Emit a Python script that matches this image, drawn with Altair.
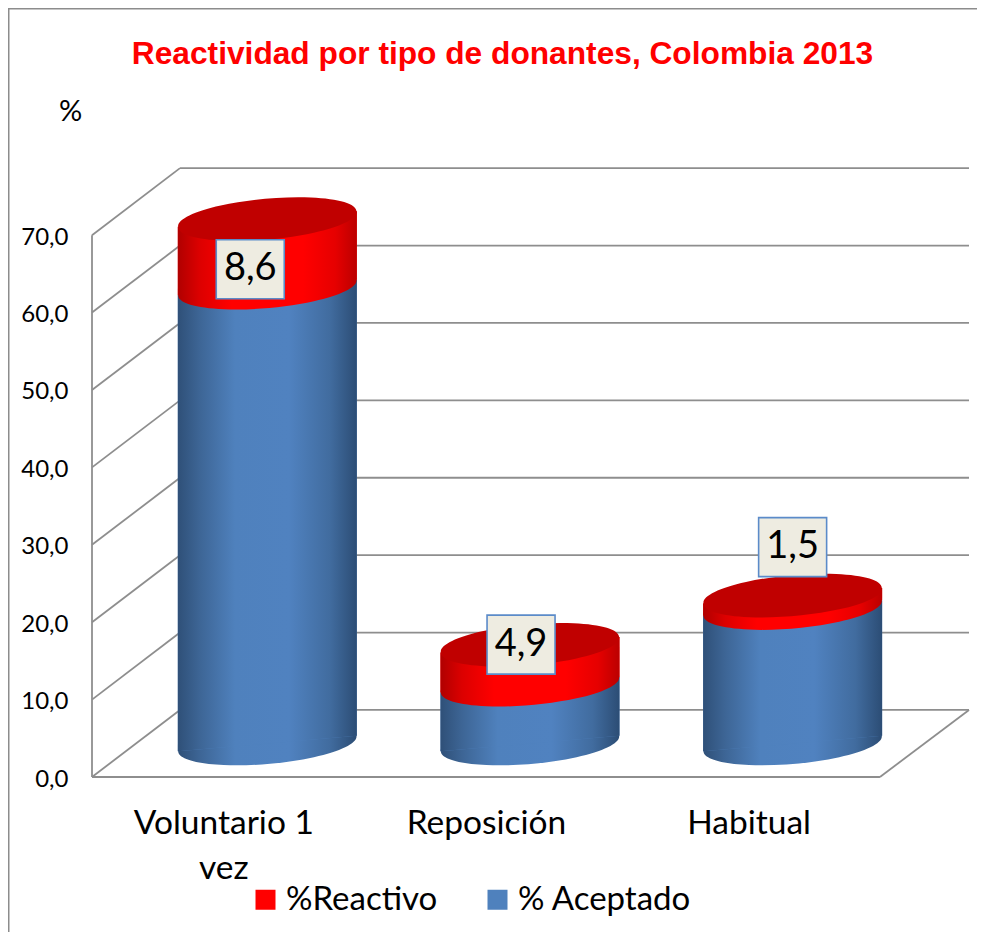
import json
import altair as alt
import pandas as pd

# --- values ---
categories = ["Voluntario 1", "Reposición", "Habitual"]
category_lines = [["Voluntario 1", "vez"], ["Reposición"], ["Habitual"]]
aceptado = [58.9, 7.6, 17.5]
reactivo = [8.85, 5.15, 1.6]
label_text = ["8,6", "4,9", "1,5"]
label_shift = [-0.065, -0.034, 0.0]
label_level = [65.6, 17.1, 29.7]
ticks = [0, 10, 20, 30, 40, 50, 60, 70]
series_names = ["%Reactivo", "% Aceptado"]
series_colors = ["#ff0000", "#4f81bd"]

# --- pseudo-3D frame, in axis units ---
DEPTH_X, DEPTH_Y = 0.335, 8.66
X_MAX, Y_MAX = 3.339, 78.68
HALF = 0.3407
TILT = 1.0
FONT = "Lato"
TITLE_FONT = "Liberation Sans"
GRID = "#8e8e8e"
ELLIPSE = "M-0.996 0.087 A1 0.224 -5 1 1 0.996 -0.087 A1 0.224 -5 1 1 -0.996 0.087 Z"
BOX = "M-1 -0.868 L1 -0.868 L1 0.868 L-1 0.868 Z"
ELLIPSE_SIZE = 32041
BOX_SIZE = 4624

x_scale = alt.Scale(domain=[0, X_MAX], nice=False, zero=False)
y_scale = alt.Scale(domain=[0, Y_MAX], nice=False, zero=False)

segments = []
for v in ticks:
    segments.append(dict(x=0, x2=DEPTH_X, y=v, y2=v + DEPTH_Y))
    segments.append(dict(x=DEPTH_X, x2=X_MAX, y=v + DEPTH_Y, y2=v + DEPTH_Y))
segments.append(dict(x=0, x2=0, y=0, y2=ticks[-1]))
segments.append(dict(x=0, x2=3, y=0, y2=0))
segments.append(dict(x=3, x2=X_MAX, y=0, y2=DEPTH_Y))
seg_df = pd.DataFrame(segments)

caps, bodies = [], []
for i, cat in enumerate(categories):
    cx = i + 0.5 + DEPTH_X / 2
    base = DEPTH_Y / 2
    mid = base + aceptado[i]
    top = mid + reactivo[i]
    caps.append(dict(cat=cat, cx=cx, base=base, mid=mid, top=top,
                     lx=cx + label_shift[i], ly=label_level[i], label=label_text[i]))
    for side in (-1, 1):
        px = cx + side * HALF
        t = side * TILT
        bodies.append(dict(cat=cat, series=series_names[1], px=px, lo=base + t, hi=mid + t))
        bodies.append(dict(cat=cat, series=series_names[0], px=px, lo=mid + t, hi=top + t))
cap_df = pd.DataFrame(caps)
body_df = pd.DataFrame(bodies)

X = lambda f: alt.X(f, type="quantitative", scale=x_scale, title=None)
Y = lambda f: alt.Y(f, type="quantitative", scale=y_scale, title="%")


def grad(stops):
    return alt.LinearGradient(
        gradient="linear", x1=0, x2=1, y1=0, y2=0,
        stops=[alt.GradientStop(offset=o, color=c) for o, c in stops],
    )


blue_grad = grad([(0, "#2f5078"), (0.12, "#3d6595"), (0.32, "#4f81bd"), (0.62, "#5082c0"),
                  (0.85, "#416c9f"), (1, "#2c4d75")])
red_grad = grad([(0, "#b00000"), (0.12, "#dc0000"), (0.3, "#ff0000"), (0.7, "#ff0000"),
                 (0.88, "#e60000"), (1, "#bb0000")])

labels_expr = "[" + ",".join(json.dumps(l, ensure_ascii=False) for l in category_lines) + "][floor(datum.value)]"

frame = alt.Chart(seg_df).mark_rule(color=GRID, strokeWidth=1.8).encode(
    x=alt.X("x:Q", scale=x_scale, axis=alt.Axis(
        values=[0.5, 1.5, 2.5], labelExpr=labels_expr, domain=False, ticks=False, grid=False, title=None,
        labelFont=FONT, labelFontSize=33.5, labelColor="#000000", labelPadding=30, labelLineHeight=45,
        labelLimit=500, labelOverlap=False, labelBound=False, labelFlush=False)),
    x2="x2:Q",
    y=alt.Y("y:Q", scale=y_scale, title="%", axis=alt.Axis(
        values=ticks, labelExpr="replace(format(datum.value,'.1f'),'.',',')", domain=False, ticks=False,
        grid=False, labelFont=FONT, labelFontSize=24, labelColor="#000000", labelPadding=24, labelOffset=2,
        labelOverlap=False, labelBound=False, labelFlush=False,
        titleAngle=0, titleX=-22, titleY=-48, titleFont=FONT, titleFontSize=29,
        titleFontWeight="normal", titleColor="#000000", titleAlign="center", titleBaseline="alphabetic")),
    y2="y2:Q",
)

border = alt.Chart(pd.DataFrame({"a": [0]}))
border_left = border.mark_rule(color="#8c8c8c", strokeWidth=1.5).encode(
    x=alt.value(-83.25), y=alt.value(-160), y2=alt.value(764))
border_top = border.mark_rule(color="#8c8c8c", strokeWidth=1.5).encode(
    y=alt.value(-159.25), x=alt.value(-84), x2=alt.value(885))


def ellipse(field, fill):
    return alt.Chart(cap_df).mark_point(
        shape=ELLIPSE, size=ELLIPSE_SIZE, filled=True, fill=fill, opacity=1
    ).encode(x=X("cx"), y=Y(field))


def body(series, fill):
    return alt.Chart(body_df[body_df.series == series]).mark_area(fill=fill).encode(
        x=X("px"), y=Y("lo"), y2="hi:Q", detail="cat:N")


flat = alt.Chart(body_df).mark_area().encode(
    x=X("px"), y=Y("lo"), y2="hi:Q", detail="cat:N",
    color=alt.Color("series:N", scale=alt.Scale(domain=series_names, range=series_colors), sort=None,
                    legend=alt.Legend(
                        title=None, orient="none", direction="horizontal", legendX=157, legendY=715,
                        padding=0, symbolType="square", symbolSize=400, symbolStrokeWidth=0,
                        labelFont=FONT, labelFontSize=33, labelColor="#000000", labelOffset=4,
                        columnPadding=43, labelLimit=300, symbolOpacity=1)),
)

boxes = alt.Chart(cap_df).mark_point(
    shape=BOX, size=BOX_SIZE, filled=True, fill="#eeece1", stroke="#5b8bc9", strokeWidth=1.6, opacity=1
).encode(x=X("lx"), y=Y("ly"))
box_text = alt.Chart(cap_df).mark_text(
    font=FONT, fontSize=38, color="#000000", align="center", baseline="middle"
).encode(x=X("lx"), y=Y("ly"), text="label:N")

chart = alt.layer(
    frame, border_left, border_top,
    ellipse("base", blue_grad),
    flat,
    body(series_names[1], blue_grad),
    ellipse("mid", red_grad),
    body(series_names[0], red_grad),
    ellipse("top", "#c00000"),
    boxes, box_text,
).properties(
    width=877, height=609,
    title=alt.TitleParams(
        "Reactividad por tipo de donantes, Colombia 2013", font=TITLE_FONT, fontSize=31.7, fontWeight="bold",
        color="#ff0000", anchor="middle", dx=-28, offset=0, dy=88, baseline="alphabetic"),
    autosize="none",
    padding={"left": 84, "top": 160, "right": 8, "bottom": 155},
    background="white",
).configure_view(stroke=None)

chart.save("out.html", embed_options={"renderer": "svg", "actions": False})
